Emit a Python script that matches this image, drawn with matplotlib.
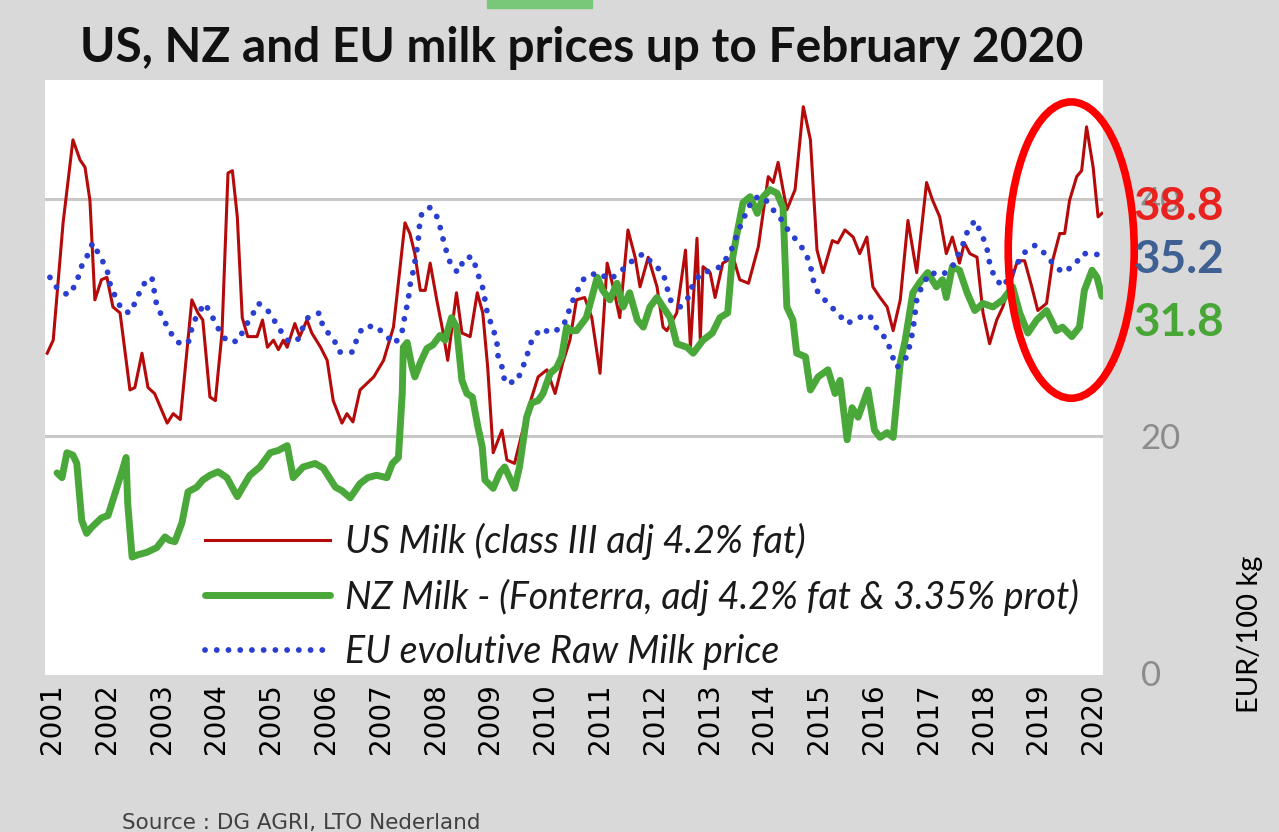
import numpy as np
import matplotlib.pyplot as plt
from matplotlib.patches import Ellipse, Rectangle

# US milk, class III adj 4.2% fat (EUR/100 kg)
us_year = [2000.91, 2001.02, 2001.20, 2001.38, 2001.51, 2001.60, 2001.69, 2001.78, 2001.90, 2002.00,
           2002.11, 2002.24, 2002.42, 2002.51, 2002.64, 2002.75, 2002.87, 2003.10, 2003.21, 2003.34,
           2003.55, 2003.66, 2003.75, 2003.88, 2003.98, 2004.10, 2004.21, 2004.29, 2004.38, 2004.47,
           2004.57, 2004.74, 2004.84, 2004.93, 2005.04, 2005.13, 2005.22, 2005.29, 2005.43, 2005.52,
           2005.65, 2005.74, 2005.90, 2006.02, 2006.13, 2006.29, 2006.38, 2006.49, 2006.62, 2006.87,
           2007.05, 2007.23, 2007.44, 2007.53, 2007.62, 2007.72, 2007.81, 2007.90, 2008.02, 2008.13,
           2008.22, 2008.38, 2008.48, 2008.63, 2008.76, 2008.86, 2008.95, 2009.05, 2009.21, 2009.30,
           2009.44, 2009.68, 2009.87, 2010.03, 2010.18, 2010.32, 2010.45, 2010.57, 2010.72, 2010.85,
           2011.00, 2011.13, 2011.24, 2011.36, 2011.51, 2011.64, 2011.73, 2011.88, 2012.04, 2012.15,
           2012.22, 2012.40, 2012.56, 2012.65, 2012.77, 2012.83, 2012.88, 2013.01, 2013.10, 2013.24,
           2013.43, 2013.55, 2013.71, 2013.89, 2014.07, 2014.16, 2014.25, 2014.34, 2014.41, 2014.56,
           2014.71, 2014.84, 2014.96, 2015.07, 2015.24, 2015.34, 2015.47, 2015.62, 2015.74, 2015.87,
           2015.98, 2016.11, 2016.24, 2016.35, 2016.48, 2016.62, 2016.78, 2016.96, 2017.07, 2017.20,
           2017.32, 2017.43, 2017.56, 2017.65, 2017.75, 2017.88, 2017.99, 2018.11, 2018.24, 2018.35,
           2018.47, 2018.62, 2018.75, 2018.88, 2018.99, 2019.15, 2019.26, 2019.39, 2019.48, 2019.57,
           2019.70, 2019.79, 2019.88, 2020.00, 2020.09, 2020.16]
us_price = [27.0, 28.1, 38.0, 45.0, 43.3, 42.7, 39.9, 31.5, 33.2, 33.4,
            30.9, 30.4, 23.9, 24.1, 27.0, 24.1, 23.6, 21.1, 21.9, 21.4,
            31.5, 30.4, 29.8, 23.3, 23.0, 28.7, 42.2, 42.4, 38.5, 30.0,
            28.4, 28.4, 29.8, 27.5, 28.1, 27.3, 28.1, 27.5, 29.5, 28.4,
            29.8, 28.7, 27.5, 26.4, 23.0, 21.1, 21.9, 21.2, 23.9, 25.0,
            26.4, 29.2, 38.0, 37.1, 35.4, 32.3, 32.3, 34.6, 31.5, 28.9,
            26.4, 32.1, 28.7, 28.4, 32.1, 30.4, 25.8, 18.6, 20.5, 18.0,
            17.7, 22.2, 25.0, 25.6, 23.6, 26.2, 28.1, 31.5, 31.7, 30.0,
            25.3, 34.6, 32.6, 30.0, 37.4, 35.1, 32.6, 35.1, 32.6, 29.2,
            28.9, 30.4, 35.7, 27.5, 36.7, 28.1, 34.3, 33.8, 31.7, 34.6,
            35.1, 33.2, 32.9, 36.0, 41.9, 41.4, 43.1, 40.8, 39.1, 40.8,
            47.8, 45.0, 35.7, 33.8, 36.5, 36.3, 37.4, 36.8, 35.4, 36.8,
            32.6, 31.7, 30.9, 28.9, 31.5, 38.2, 33.8, 41.4, 39.9, 38.5,
            35.4, 36.8, 34.6, 36.3, 35.4, 35.1, 30.4, 27.8, 29.8, 30.9,
            32.6, 34.8, 34.8, 32.6, 30.6, 31.2, 34.8, 37.1, 37.1, 39.9,
            41.9, 42.4, 46.1, 42.7, 38.5, 38.8]

# NZ milk, Fonterra adj 4.2% fat & 3.35% prot
nz_year = [2001.09, 2001.18, 2001.27, 2001.38, 2001.45, 2001.54, 2001.63, 2001.72, 2001.90, 2002.02,
           2002.15, 2002.28, 2002.35, 2002.38, 2002.46, 2002.57, 2002.73, 2002.91, 2003.06, 2003.15,
           2003.24, 2003.37, 2003.48, 2003.64, 2003.75, 2003.88, 2004.03, 2004.19, 2004.38, 2004.48,
           2004.61, 2004.79, 2004.98, 2005.13, 2005.29, 2005.40, 2005.58, 2005.80, 2005.95, 2006.17,
           2006.29, 2006.44, 2006.62, 2006.76, 2006.92, 2007.11, 2007.21, 2007.32, 2007.39, 2007.41,
           2007.48, 2007.57, 2007.62, 2007.72, 2007.84, 2007.95, 2008.08, 2008.17, 2008.29, 2008.38,
           2008.48, 2008.57, 2008.67, 2008.77, 2008.85, 2008.90, 2009.05, 2009.17, 2009.26, 2009.35,
           2009.44, 2009.53, 2009.66, 2009.75, 2009.87, 2009.96, 2010.09, 2010.21, 2010.30, 2010.39,
           2010.48, 2010.57, 2010.75, 2010.95, 2011.05, 2011.18, 2011.31, 2011.42, 2011.54, 2011.68,
           2011.79, 2011.91, 2012.04, 2012.15, 2012.28, 2012.40, 2012.59, 2012.70, 2012.88, 2013.05,
           2013.19, 2013.33, 2013.41, 2013.50, 2013.61, 2013.74, 2013.87, 2013.98, 2014.10, 2014.23,
           2014.34, 2014.41, 2014.52, 2014.59, 2014.75, 2014.84, 2014.98, 2015.16, 2015.29, 2015.38,
           2015.51, 2015.60, 2015.71, 2015.89, 2016.01, 2016.11, 2016.24, 2016.35, 2016.48, 2016.57,
           2016.71, 2016.84, 2016.98, 2017.14, 2017.25, 2017.32, 2017.43, 2017.56, 2017.70, 2017.84,
           2017.99, 2018.17, 2018.35, 2018.53, 2018.66, 2018.81, 2018.97, 2019.15, 2019.33, 2019.44,
           2019.61, 2019.75, 2019.84, 2019.98, 2020.07, 2020.16]
nz_price = [16.9, 16.5, 18.6, 18.4, 17.7, 12.9, 11.8, 12.3, 13.1, 13.3,
            15.2, 17.1, 18.2, 14.3, 9.8, 10.0, 10.2, 10.6, 11.5, 11.2,
            11.1, 12.7, 15.3, 15.7, 16.3, 16.7, 17.0, 16.5, 14.9, 15.7,
            16.7, 17.4, 18.6, 18.8, 19.2, 16.5, 17.4, 17.7, 17.3, 15.7,
            15.4, 14.8, 16.0, 16.5, 16.7, 16.5, 17.7, 18.2, 23.6, 27.5,
            27.9, 25.8, 25.0, 26.2, 27.4, 27.7, 28.5, 28.1, 30.0, 29.2,
            24.7, 23.6, 23.3, 20.8, 19.1, 16.3, 15.6, 16.9, 17.4, 16.5,
            15.6, 17.4, 21.6, 22.8, 23.0, 23.6, 25.3, 25.8, 26.7, 29.2,
            28.9, 28.9, 30.0, 33.4, 32.3, 31.5, 32.9, 30.9, 32.1, 29.8,
            29.2, 30.9, 31.7, 30.9, 30.0, 27.8, 27.5, 27.0, 28.1, 28.7,
            30.0, 30.4, 34.8, 37.1, 39.7, 40.2, 38.8, 40.2, 40.8, 40.5,
            39.3, 30.9, 29.8, 27.0, 26.7, 23.9, 25.0, 25.6, 23.6, 24.7,
            19.7, 22.4, 21.6, 23.9, 20.5, 19.9, 20.3, 19.9, 26.2, 28.1,
            32.1, 33.0, 33.8, 32.6, 33.2, 31.7, 34.3, 34.0, 32.1, 30.6,
            31.2, 30.9, 31.5, 32.6, 30.4, 28.7, 29.8, 30.6, 28.9, 29.2,
            28.4, 29.2, 32.3, 34.0, 33.4, 31.8]

# EU evolutive raw milk price
eu_year = [2000.96, 2001.09, 2001.29, 2001.45, 2001.51, 2001.63, 2001.74, 2001.87, 2002.00, 2002.06,
           2002.17, 2002.28, 2002.42, 2002.55, 2002.64, 2002.82, 2002.91, 2003.03, 2003.15, 2003.30,
           2003.48, 2003.55, 2003.64, 2003.79, 2003.91, 2004.03, 2004.19, 2004.39, 2004.52, 2004.65,
           2004.77, 2004.98, 2005.11, 2005.29, 2005.47, 2005.58, 2005.67, 2005.88, 2005.95, 2006.13,
           2006.24, 2006.48, 2006.57, 2006.67, 2006.91, 2007.08, 2007.26, 2007.39, 2007.44, 2007.50,
           2007.53, 2007.59, 2007.64, 2007.68, 2007.70, 2007.75, 2007.90, 2008.04, 2008.11, 2008.17,
           2008.26, 2008.40, 2008.54, 2008.68, 2008.76, 2008.85, 2008.90, 2008.95, 2009.05, 2009.12,
           2009.14, 2009.23, 2009.26, 2009.48, 2009.59, 2009.68, 2009.77, 2009.94, 2010.09, 2010.32,
           2010.39, 2010.48, 2010.59, 2010.72, 2010.96, 2011.18, 2011.40, 2011.59, 2011.79, 2011.95,
           2012.15, 2012.22, 2012.28, 2012.46, 2012.61, 2012.70, 2012.86, 2013.06, 2013.19, 2013.37,
           2013.46, 2013.55, 2013.69, 2013.80, 2013.98, 2014.14, 2014.29, 2014.43, 2014.59, 2014.75,
           2014.84, 2014.89, 2014.98, 2015.14, 2015.33, 2015.51, 2015.71, 2015.92, 2016.05, 2016.24,
           2016.33, 2016.42, 2016.60, 2016.66, 2016.71, 2016.75, 2016.78, 2016.87, 2017.02, 2017.25,
           2017.43, 2017.61, 2017.70, 2017.84, 2017.97, 2018.06, 2018.11, 2018.20, 2018.35, 2018.47,
           2018.62, 2018.75, 2018.94, 2019.12, 2019.26, 2019.44, 2019.66, 2019.80, 2020.02, 2020.16]
eu_price = [33.4, 32.5, 31.9, 32.9, 34.1, 35.1, 36.3, 35.2, 34.1, 32.8,
            31.6, 30.6, 30.4, 31.6, 32.7, 33.4, 31.0, 29.9, 28.8, 27.9,
            27.8, 29.1, 30.2, 31.2, 30.2, 29.1, 28.0, 28.0, 29.2, 30.2,
            31.2, 30.4, 29.3, 28.1, 28.0, 29.2, 30.0, 30.4, 29.1, 28.3,
            27.1, 27.1, 28.3, 29.2, 29.3, 28.5, 27.8, 28.9, 30.2, 31.5,
            32.7, 33.9, 35.2, 36.4, 37.6, 38.9, 39.3, 38.4, 37.1, 36.0,
            34.7, 33.8, 35.1, 35.1, 33.8, 32.7, 31.5, 30.2, 29.1, 27.8,
            26.7, 25.6, 24.5, 24.6, 25.8, 27.0, 28.3, 29.1, 28.7, 29.2,
            30.0, 31.2, 32.3, 33.4, 33.8, 33.2, 34.0, 34.8, 35.4, 34.6,
            33.8, 32.6, 31.5, 30.9, 31.7, 32.9, 33.8, 34.0, 34.3, 35.4,
            36.5, 37.6, 39.1, 40.1, 40.2, 39.2, 38.4, 37.4, 36.5, 35.5,
            34.4, 33.2, 32.1, 31.3, 30.4, 29.5, 30.0, 30.2, 29.1, 28.1,
            26.8, 25.8, 26.7, 27.8, 28.9, 30.4, 31.5, 32.6, 33.8, 33.6,
            34.3, 36.0, 37.2, 38.2, 37.0, 35.9, 34.6, 33.4, 32.6, 33.4,
            34.6, 35.5, 36.1, 35.4, 34.6, 33.8, 34.4, 35.4, 35.4, 35.2]

years = list(range(2001, 2021))
y_ticks = [0, 20, 40]
grid_levels = [20, 40]
last_values = ['38.8', '35.2', '31.8']

labels = ['US Milk (class III adj 4.2% fat)',
          'NZ Milk - (Fonterra, adj 4.2% fat & 3.35% prot)',
          'EU evolutive Raw Milk price']

W, H = 1279, 832
fig = plt.figure(figsize=(W / 100, H / 100), dpi=100, facecolor='#d9d9d9')
ax = fig.add_axes([45 / W, 1 - 675 / H, 1058 / W, 595 / H])
ax.set_facecolor('white')
for s in ax.spines.values():
    s.set_visible(False)

for g in grid_levels:
    ax.axhline(g, color='#c8c8c8', lw=2.2, zorder=1)

l_us, = ax.plot(us_year, us_price, color='#b50a0a', lw=2.2, zorder=3)
l_nz, = ax.plot(nz_year, nz_price, color='#4aa83a', lw=5.0, zorder=4,
                solid_joinstyle='round', solid_capstyle='round')
l_eu, = ax.plot(eu_year, eu_price, color='#2a3fd0', lw=4.2, ls=(0, (0.01, 2.0)),
                dash_capstyle='round', zorder=5)

ax.set_xlim(2000.87, 2020.18)
ax.set_ylim(-0.15, 50.05)
ax.set_xticks(years)
ax.set_xticklabels([str(y) for y in years], rotation=90, fontsize=20,
                   family='DejaVu Sans', color='black')
ax.yaxis.tick_right()
ax.set_yticks(y_ticks)
ax.set_yticklabels([str(v) for v in y_ticks], fontsize=25, family='Lato',
                   color='#8c8c8c')
ax.tick_params(axis='x', length=0, pad=6)
ax.tick_params(axis='y', length=0, pad=27)

leg = ax.legend([l_us, l_nz, l_eu], labels, loc='center left',
                bbox_to_anchor=(0.151, 0.132), frameon=False,
                borderaxespad=0, borderpad=0, handlelength=3.33,
                handletextpad=0.4, labelspacing=0.5,
                prop={'family': 'Lato', 'style': 'italic', 'size': 27})
for t in leg.get_texts():
    t.set_color('#1a1a1a')

# red circle around the last months
ell = Ellipse((2019.60, 35.7), 2.30, 25.0, fill=False, edgecolor='#ff0000',
              lw=5.5, zorder=10, clip_on=False)
ax.add_patch(ell)

fig.text(582 / W, 1 - 48 / H, 'US, NZ and EU milk prices up to February 2020',
         ha='center', va='center', fontsize=34.5, fontweight='bold',
         family='Lato', color='#111111')

val_colors = ['#e8221e', '#3f6092', '#47a636']
val_y = [207, 260, 323]
for v, c, yy in zip(last_values, val_colors, val_y):
    fig.text(1134 / W, 1 - yy / H, v, ha='left', va='center', fontsize=33,
             fontweight='bold', family='Lato', color=c, zorder=5)

fig.text(1250 / W, 1 - 634 / H, 'EUR/100 kg', rotation=90, ha='center',
         va='center', fontsize=21, family='Lato', color='black')

fig.text(122 / W, 1 - 823 / H, 'Source : DG AGRI, LTO Nederland', ha='left',
         va='center', fontsize=15.5, family='DejaVu Sans', color='#404040')

fig.patches.append(Rectangle((487 / W, 1 - 8 / H), 105 / W, 8 / H,
                             transform=fig.transFigure, color='#79c879',
                             zorder=1))

fig.savefig('out.png', dpi=100, facecolor=fig.get_facecolor())
